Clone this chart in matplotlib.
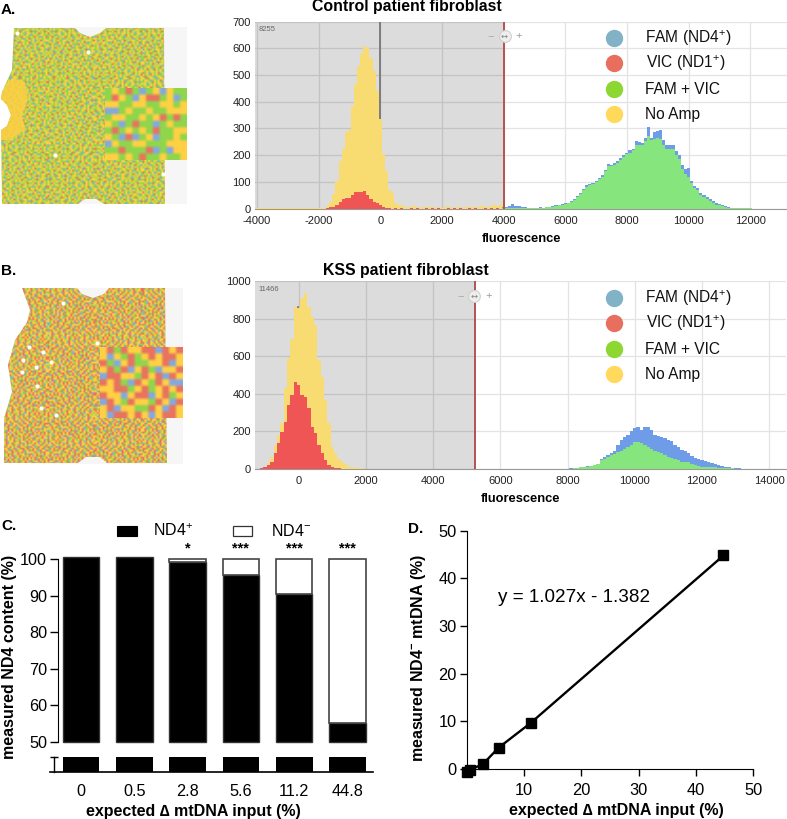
import numpy as np
import matplotlib
matplotlib.use("Agg")
import matplotlib.pyplot as plt
from matplotlib.colors import ListedColormap
from matplotlib.patches import Polygon, Rectangle

plt.rcParams['font.family'] = ['Liberation Sans', 'DejaVu Sans']
plt.rcParams['mathtext.fontset'] = 'custom'
plt.rcParams['mathtext.rm'] = 'Liberation Sans'
plt.rcParams['mathtext.bf'] = 'Liberation Sans:bold'
plt.rcParams['mathtext.default'] = 'regular'
plt.rcParams['axes.unicode_minus'] = False

W, H = 787, 819

# panel A histogram, 100 wide bins, first bin centre given by *_start
a_yellow_start = -4000
a_yellow = [1, 2, 1, 1, 2, 1, 1, 2, 2, 1, 1, 2, 1, 2, 2, 3, 3, 2, 4, 3,
            1, 2, 4, 10, 25, 55, 105, 180, 225, 285, 295, 385, 465, 535, 580, 610, 600, 565, 515, 440,
            335, 205, 140, 70, 57, 20, 12, 12, 8, 5, 6, 9, 6, 4, 8, 7, 5, 6, 4, 7,
            4, 5, 5, 6, 4, 7, 5, 4, 6, 5, 6, 8, 6, 9, 8, 7, 10, 12, 10, 15, 20]
a_red_start = -1700
a_red = [2, 5, 7, 12, 26, 38, 40, 41, 50, 62, 64, 62, 66, 50, 38, 26, 20, 14, 8, 4,
         2, 0, 1, 0, 3, 0, 0, 4, 0, 3, 0, 0, 1, 0, 3, 0, 1, 0, 0, 2,
         0, 1, 0, 3, 0, 0, 1, 0, 3, 0, 0, 2, 0, 4, 0, 3, 0]
a_blue_start = 4000
a_blue = [8, 8, 10, 16, 10, 9, 8, 7, 4, 4, 3, 4, 5, 4, 7, 6, 9, 12, 15, 18,
          20, 23, 27, 35, 46, 60, 75, 88, 92, 97, 105, 115, 125, 146, 168, 165, 170, 178, 190, 202,
          210, 218, 225, 252, 250, 247, 265, 306, 265, 285, 292, 295, 258, 238, 240, 240, 215, 200, 165, 150,
          152, 105, 86, 78, 60, 52, 45, 35, 28, 20, 16, 12, 10, 6, 4, 2, 2, 2, 1, 1, 1]
a_green_start = 4000
a_green = [3, 3, 3, 4, 3, 3, 3, 3, 2, 2, 2, 3, 4, 3, 5, 5, 7, 10, 13, 15,
           17, 20, 24, 32, 43, 56, 70, 83, 88, 92, 100, 110, 120, 140, 160, 160, 165, 172, 183, 195,
           203, 210, 218, 240, 240, 238, 255, 270, 258, 262, 265, 262, 240, 225, 222, 222, 200, 185, 150, 130,
           120, 95, 78, 70, 52, 45, 38, 28, 22, 15, 12, 9, 7, 4, 3, 2, 1, 1, 1, 1, 1]

# panel B histogram
b_yellow_start = -1200
b_yellow = [2, 5, 12, 30, 65, 128, 180, 243, 430, 590, 690, 863, 855, 908, 934, 863, 810, 766, 580, 491,
            367, 243, 119, 83, 55, 39, 25, 12, 8, 5, 3, 3, 2, 2, 1, 1, 2, 1, 1, 1]
b_red_start = -1100
b_red = [3, 10, 21, 39, 83, 136, 198, 250, 340, 394, 465, 447, 394, 385, 323, 225, 190, 128, 83, 48,
         21, 12, 5, 3, 1]
b_blue_start = 8000
b_blue = [2, 3, 4, 6, 9, 12, 15, 18, 22, 27, 53, 62, 75, 85, 98, 125, 154, 170, 181, 200,
          216, 225, 207, 222, 225, 205, 181, 175, 172, 165, 154, 150, 128, 115, 101, 98, 87, 70, 57, 52,
          48, 45, 39, 30, 27, 20, 16, 13, 11, 7, 5, 3, 2, 1, 1]
b_green_start = 8000
b_green = [2, 2, 3, 5, 8, 11, 13, 16, 20, 24, 48, 55, 66, 72, 80, 90, 98, 108, 119, 130,
           142, 145, 140, 128, 119, 108, 96, 90, 83, 75, 66, 60, 53, 46, 39, 37, 35, 28, 21, 17,
           12, 11, 10, 9, 9, 7, 5, 4, 3, 3, 2, 1, 1, 1, 1]

# panel C
c_labels = ['0', '0.5', '2.8', '5.6', '11.2', '44.8']
c_nd4_pos = np.array([100.5, 100.5, 99.2, 95.5, 90.5, 55.2])
c_nd4_neg = np.array([0, 0, 0.8, 4.5, 9.5, 44.8])
c_stars = ['', '', '*', '***', '***', '***']

# panel D
d_expected = [0, 0.5, 2.8, 5.6, 11.2, 44.8]
d_measured = [-0.6, -0.2, 1.0, 4.5, 9.7, 44.8]

# droplet chip pictures: g green, y yellow, r red, b blue
chip_a_tile = ["gygrgyygbgyygrgygygyrgygb",
               "ygygygrygygbgyyggygygyggy",
               "gyrgybgygyrgygygrgbgygyrg",
               "ygygygyygygygbyygygyrgygy",
               "gbgyrgygrygyggygbgyggyygg",
               "yygygygbgygryyggygrygbgyr",
               "gyrgyyggygygbgyrgygygygyg",
               "ygygbgyrgygyyggygybgyrgyy",
               "grygygygybrgygyrgygygyygb",
               "gygyrgbgygygygygbgyrgygyg",
               "ybgygygyrgyrgybgygygygrgy",
               "gygrgygbgygygygyrgybgyygy",
               "rgygyygygrgybgygygygrgygb",
               "gybgygrgygygyrgygbgygyygy"]
chip_b_tile = ["yrgyryybgrygrygyrygbyrgyr",
               "ryygrgyrygbyrgyyrgyryygry",
               "gyrybyrgyryyrbyrgyyrgbyrg",
               "yrgyyrgyrygyryygrybgyrygy",
               "rybgryyrgybrgyrygyrryygrb",
               "yryrgyrbyrgyyrgyrbygrryrg",
               "grygbryyrgyrygbryrgyyrgyr",
               "yyrgyrgryybgryyrgyryrgbyy",
               "rgyrygyryrbgyrgryyrgyyrgb",
               "ybyrgrbgyrygyryrbgyrgygyr",
               "ryrgyrgyrgyrgybyrgyryrgry",
               "gyrbryrgyygryryrgybgyryry",
               "rgyyrgyryrgybrgyrygrgyryb",
               "yrbgyrgrygyrgyrybyrgyyrgy"]
inset_a = ["gygrgbgybygg",
           "grygbyrrgybg",
           "yyggyyggyygy",
           "bbgyggyggyyy",
           "gyyggygyrgrg",
           "ygbgrggbgygg",
           "grgygygrggyy",
           "ygbrbgybggyg",
           "byggyygggyyy",
           "ggrgggrbgbyy",
           "yygygrggyggy"]
inset_b = ["yrgryyrrbryr",
           "ybygrgyryrry",
           "rgbyrggyyrby",
           "yrgrbyrgbyyr",
           "brryygryrbry",
           "ryrgbrygrybb",
           "yyrrgyrgyryr",
           "ryybyrrbyrgy",
           "brygryygrybr",
           "yrbyyggrybry",
           "ybrryrybyrry"]
chip_a_outline = [(14, 28), (75, 28), (80, 33), (90, 37), (100, 33), (106, 28), (164, 28), (165, 205),
                  (104, 204), (96, 199), (85, 199), (78, 204), (2, 204), (1, 130), (7, 126), (11, 115), (7, 105),
                  (1, 99), (2, 92), (12, 70)]
chip_a_blob = [(2, 92), (12, 78), (25, 82), (28, 100), (22, 115), (25, 130), (10, 140), (1, 140), (1, 130), (7, 126),
               (11, 115), (7, 105), (1, 99)]
chip_b_outline = [(22, 288), (77, 288), (82, 294), (93, 298), (104, 294), (109, 288), (165, 288), (167, 463),
                  (107, 463), (100, 457), (86, 457), (78, 463), (4, 463), (4, 418), (12, 392), (8, 365), (15, 340),
                  (27, 322), (30, 310)]
chip_a_holes = [(17, 33), (88, 52), (55, 155), (163, 174)]
chip_b_holes = [(43, 352), (29, 347), (23, 360), (51, 362), (36, 367), (22, 372), (37, 386), (41, 408), (56, 415),
                (97, 343), (63, 303)]

chip_cmap = ListedColormap(['#8fd64c', '#ffd043', '#e8745f', '#85a9dc'])
legend_names = ["FAM (ND4$^{+}$)", "VIC (ND1$^{+}$)", "FAM + VIC", "No Amp"]
legend_colors = ['#82b2c6', '#e86f5e', '#8dd733', '#ffd95c']


def px_axes(fig, left, top, right, bottom):
    return fig.add_axes([left / W, 1 - bottom / H, (right - left) / W, (bottom - top) / H])


def to_grid(rows):
    return np.array([["gyrb".index(c) for c in r] for r in rows])


def tile_up(grid):
    # repeat the typed tile, flipped and shifted so that the repeat is hard to see
    columns = []
    for k in range(4):
        blocks = []
        for i in range(7):
            part = np.roll(grid, i * 11 + k * 4, axis=1)
            if (i + k) % 2:
                part = part[:, ::-1]
            if i % 3 == 1:
                part = part[::-1, :]
            blocks.append(part)
        columns.append(np.vstack(blocks))
    return np.hstack(columns)


def draw_chip(px, tile, inset, outline, holes, box, inset_box):
    px.add_patch(Rectangle((box[0] + 30, box[1]), box[2] - box[0] - 30, box[3] - box[1], fc='#f6f6f6', ec='none',
                           zorder=1))
    im = px.imshow(tile_up(to_grid(tile)), cmap=chip_cmap, vmin=0, vmax=3, interpolation='bilinear',
                   interpolation_stage='rgba', aspect='auto', extent=(0, 190, box[3], box[1]), zorder=2)
    im.set_clip_path(Polygon(outline, transform=px.transData))
    for x, y in holes:
        px.plot(x, y, 'o', ms=3, color='white', mec='none', zorder=3)
    big_inset = to_grid(inset).repeat(2, axis=0).repeat(2, axis=1)
    px.imshow(big_inset, cmap=chip_cmap, vmin=0, vmax=3, interpolation='bilinear', interpolation_stage='rgba',
              aspect='auto', extent=(inset_box[0], inset_box[2], inset_box[3], inset_box[1]), zorder=4)


def draw_hist(ax, series, xlim, ylim, xticks, yticks, zero_x, cut_x, count, zero_top):
    ax.set_xlim(*xlim)
    ax.set_ylim(*ylim)
    ax.set_xticks(xticks)
    ax.set_yticks(yticks)
    ax.tick_params(length=0, labelsize=8, colors='#222222')
    ax.tick_params(axis='x', pad=5)
    ax.tick_params(axis='y', pad=3)
    ax.grid(True, color='#e3e3e3', lw=0.9)
    ax.set_axisbelow(True)
    for s in ['top', 'right', 'left']:
        ax.spines[s].set_visible(False)
    ax.spines['bottom'].set_color('#999999')
    ax.axvspan(xlim[0], cut_x, color='black', alpha=0.137, lw=0, zorder=1)
    ax.plot([zero_x, zero_x], [0, zero_top], color='#6f6f6f', lw=1.2, zorder=2)
    for start, vals, col in series:
        centers = start + 100 * np.arange(len(vals))
        ax.bar(centers, vals, width=100, color=col, lw=0, zorder=3)
    ax.axvline(cut_x, color='#b25353', lw=1.4, zorder=4)
    ax.text(0.006, 0.975, count, transform=ax.transAxes, fontsize=5.5, color='#666666', va='top')
    ax.set_xlabel('fluorescence', fontweight='bold', fontsize=9.3, labelpad=5)


def draw_legend(px, ys):
    for y, name, col in zip(ys, legend_names, legend_colors):
        px.plot(613.5, y, 'o', ms=12.5, color=col, mec='none')
        x = 646 if name.startswith('VIC') else 645
        px.text(x, y, name, fontsize=11.2, va='center', color='#111111')


def draw_zoom_widget(px, x, y):
    px.plot(x, y, 'o', ms=8.5, mfc='#eeeeee', mec='#d0d0d0', mew=0.8, zorder=6)
    px.text(x, y, '\u2194', fontsize=6, color='#888888', ha='center', va='center', family='DejaVu Sans', zorder=7)
    px.text(x - 14, y, '\u2212', fontsize=8, color='#aaaaaa', ha='center', va='center', zorder=7)
    px.text(x + 14, y, '+', fontsize=8, color='#999999', ha='center', va='center', zorder=7)


fig = plt.figure(figsize=(W / 100, H / 100), dpi=100, facecolor='white')

# histograms
hist_a = px_axes(fig, 255, 21.5, 787, 208.7)
draw_hist(hist_a, [(a_yellow_start, a_yellow, '#f8dc72'), (a_red_start, a_red, '#ef5555'),
                   (a_blue_start, a_blue, '#6f9ce8'), (a_green_start, a_green, '#86e57d')],
          (-4060, 13190), (0, 700), np.arange(-4000, 12001, 2000), np.arange(0, 701, 100),
          0, 4020, '8255', 700)
hist_b = px_axes(fig, 255, 281, 786, 469)
draw_hist(hist_b, [(b_yellow_start, b_yellow, '#f8dc72'), (b_red_start, b_red, '#ef5555'),
                   (b_blue_start, b_blue, '#6f9ce8'), (b_green_start, b_green, '#86e57d')],
          (-1302, 14500), (0, 1000), np.arange(0, 14001, 2000), np.arange(0, 1001, 200),
          -10, 5235, '11466', 860)

# panel C, broken y axis
c_x = np.arange(len(c_labels))
bar_w = 36.6 / 53.3
c_top = px_axes(fig, 58, 559, 373, 741.7)
c_low = px_axes(fig, 50, 756.7, 373, 771.7)
c_top.bar(c_x, c_nd4_pos - 50, bottom=50, width=bar_w, color='black', edgecolor='#333333', lw=1, clip_on=False)
c_top.bar(c_x[2:], c_nd4_neg[2:], bottom=c_nd4_pos[2:], width=bar_w, color='white', edgecolor='#444444', lw=1.2,
          clip_on=False)
c_top.set_xlim((58 - 81) / 53.3, (373 - 81) / 53.3)
c_top.set_ylim(50, 100)
c_top.set_yticks(np.arange(50, 101, 10))
c_top.set_xticks([])
c_top.tick_params(axis='y', labelsize=11.7, length=6, width=1, pad=2)
for s in ['top', 'right', 'bottom']:
    c_top.spines[s].set_visible(False)
c_top.patch.set_alpha(0)
for x, star in zip(c_x, c_stars):
    c_top.text(x, 100.9, star, ha='center', va='bottom', fontsize=10.5, fontweight='bold')

c_low.bar(c_x, c_nd4_pos, width=bar_w, color='black', lw=0)
c_low.set_xlim((50 - 81) / 53.3, (373 - 81) / 53.3)
c_low.set_ylim(0, 45)
c_low.set_yticks([45])
c_low.set_yticklabels([''])
c_low.tick_params(axis='y', direction='inout', length=6, width=1)
c_low.set_xticks(c_x)
c_low.set_xticklabels(c_labels)
c_low.tick_params(axis='x', length=0, labelsize=11.7, pad=9)
for s in ['top', 'right']:
    c_low.spines[s].set_visible(False)
c_low.spines['left'].set_position(('axes', 4 / 323))
c_low.spines['left'].set_linewidth(1)
c_low.spines['bottom'].set_linewidth(1.2)
c_low.set_xlabel('expected \u2206 mtDNA input (%)', fontweight='bold', fontsize=11.5)
c_low.xaxis.set_label_coords((193 - 50) / 323, -2.15)

# panel D
d_ax = px_axes(fig, 466.7, 530.7, 753.3, 769)
d_ax.plot(d_expected, d_measured, '-', color='black', lw=1.7, clip_on=False)
d_ax.plot(d_expected, d_measured, 's', color='black', ms=7.8, clip_on=False, zorder=5)
d_ax.set_xlim(0, 50)
d_ax.set_ylim(0, 50)
d_ax.set_xticks(np.arange(10, 51, 10))
d_ax.set_yticks(np.arange(0, 51, 10))
d_ax.tick_params(labelsize=11.8, length=5, width=1)
d_ax.tick_params(axis='x', pad=5)
d_ax.tick_params(axis='y', pad=2)
d_ax.spines[['top', 'right']].set_visible(False)
d_ax.set_xlabel('expected \u2206 mtDNA input (%)', fontweight='bold', fontsize=11.5)
d_ax.set_ylabel('measured ND4$^{-}$ mtDNA (%)', fontweight='bold', fontsize=11.5)
d_ax.xaxis.set_label_coords(0.5227, -0.142)
d_ax.yaxis.set_label_coords(-0.134, 0.466)
d_ax.text(5.4, 36.0, 'y = 1.027x - 1.382', fontsize=13.6, va='center')

# overlay in pixel coordinates, for the chips, legends and panel letters
px = fig.add_axes([0, 0, 1, 1], zorder=10)
px.patch.set_alpha(0)
px.axis('off')
draw_chip(px, chip_a_tile, inset_a, chip_a_outline, chip_a_holes, (0, 27, 187, 204), (105, 88, 187, 160))
px.add_patch(Polygon(chip_a_blob, fc='#ffd043', ec='none', alpha=0.85, zorder=3))
draw_chip(px, chip_b_tile, inset_b, chip_b_outline, chip_b_holes, (0, 288, 183, 464), (100, 347, 183, 418))
px.set_xlim(0, W)
px.set_ylim(H, 0)

draw_legend(px, [38, 63, 89, 114])
draw_legend(px, [298, 323, 349, 374])
draw_zoom_widget(px, 504.5, 36)
draw_zoom_widget(px, 474.3, 296)

px.text(407, 7, 'Control patient fibroblast', fontsize=11.4, fontweight='bold', ha='center', va='center')
px.text(406, 271, 'KSS patient fibroblast', fontsize=11.4, fontweight='bold', ha='center', va='center')
for letter, x, y in [('A.', 1, 10), ('B.', 1, 271), ('C.', 1, 526), ('D.', 408, 529)]:
    px.text(x, y, letter, fontsize=11, fontweight='bold', va='center')

px.add_patch(Rectangle((117, 526), 20, 10, fc='black', ec='black', lw=0.8))
px.text(153, 531, 'ND4$^{+}$', fontsize=11.5, va='center')
px.add_patch(Rectangle((233, 526), 19, 10, fc='white', ec='#333333', lw=0.9))
px.text(271, 531, 'ND4$^{-}$', fontsize=11.5, va='center')
px.text(10, 657, 'measured ND4 content (%)', rotation=90, fontsize=11.5, fontweight='bold', ha='center', va='center')

fig.savefig('out.png', dpi=100)
